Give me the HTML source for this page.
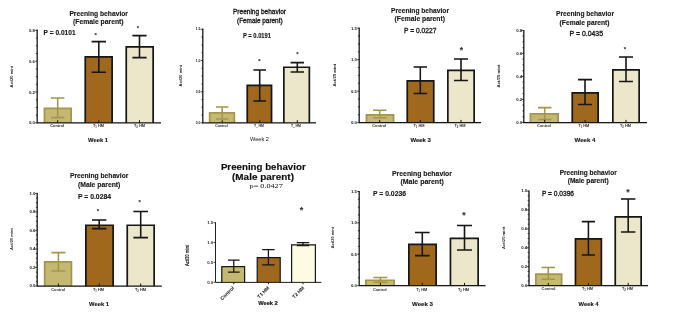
<!DOCTYPE html>
<html><head><meta charset="utf-8"><title>Preening behavior</title>
<style>
html,body{margin:0;padding:0;background:#fff;}
body{width:685px;height:314px;overflow:hidden;font-family:"Liberation Sans",sans-serif;}
svg{display:block;font-family:"Liberation Sans",sans-serif;}
</style></head><body>
<svg width="685" height="314" viewBox="0 0 685 314">
<rect width="685" height="314" fill="#fff"/>
<defs><filter id="ga" filterUnits="userSpaceOnUse" x="0" y="0" width="685" height="314"><feGaussianBlur stdDeviation="0.32"/></filter></defs>
<g filter="url(#ga)">
<rect x="44.45" y="108.45" width="26.70" height="14.45" fill="#c5b873"/>
<path d="M44.45 122.90V108.45H71.15V122.90" fill="none" stroke="#a3954b" stroke-width="1.7" stroke-linejoin="miter"/>
<path d="M57.70 98.00V117.60M51.00 98.00H64.40M51.00 117.60H64.40" stroke="#a3954b" stroke-width="1.55" fill="none"/>
<rect x="85.25" y="56.85" width="26.90" height="66.05" fill="#9f681f"/>
<path d="M85.25 122.90V56.85H112.15V122.90" fill="none" stroke="#141414" stroke-width="1.7" stroke-linejoin="miter"/>
<path d="M98.80 41.60V72.30M91.60 41.60H106.00M91.60 72.30H106.00" stroke="#141414" stroke-width="1.55" fill="none"/>
<rect x="126.25" y="46.85" width="26.90" height="76.05" fill="#ece6cb"/>
<path d="M126.25 122.90V46.85H153.15V122.90" fill="none" stroke="#141414" stroke-width="1.7" stroke-linejoin="miter"/>
<path d="M139.50 35.60V57.60M132.40 35.60H146.60M132.40 57.60H146.60" stroke="#141414" stroke-width="1.55" fill="none"/>
<path d="M37.20 29.60V122.90H161.00" stroke="#141414" stroke-width="1.3" fill="none" stroke-linejoin="miter"/>
<path d="M35.20 30.40H37.20M35.90 38.11H37.20M35.90 45.82H37.20M35.90 53.52H37.20M35.20 61.23H37.20M35.90 68.94H37.20M35.90 76.65H37.20M35.90 84.36H37.20M35.20 92.07H37.20M35.90 99.78H37.20M35.90 107.48H37.20M35.90 115.19H37.20M35.20 122.90H37.20" stroke="#141414" stroke-width="0.8" fill="none"/>
<text x="34.90" y="31.89" font-size="4.3" font-weight="bold" text-anchor="end" fill="#161616">0.8</text>
<text x="34.90" y="62.72" font-size="4.3" font-weight="bold" text-anchor="end" fill="#161616">0.6</text>
<text x="34.90" y="93.56" font-size="4.3" font-weight="bold" text-anchor="end" fill="#161616">0.2</text>
<text x="34.90" y="124.39" font-size="4.3" font-weight="bold" text-anchor="end" fill="#161616">0.0</text>
<path d="M57.70 122.90V120.20M98.80 122.90V120.20M139.50 122.90V120.20" stroke="#141414" stroke-width="1.0" fill="none"/>
<text x="98.70" y="15.72" font-size="6.7" font-weight="bold" text-anchor="middle" fill="#151515" textLength="58.60" lengthAdjust="spacingAndGlyphs" stroke="#151515" stroke-width="0.12">Preening behavior</text>
<text x="98.30" y="24.32" font-size="6.7" font-weight="bold" text-anchor="middle" fill="#151515" textLength="50.60" lengthAdjust="spacingAndGlyphs" stroke="#151515" stroke-width="0.12">(Female parent)</text>
<text x="59.60" y="34.55" font-size="6.5" font-weight="bold" text-anchor="middle" fill="#151515" textLength="32.00" lengthAdjust="spacingAndGlyphs" stroke="#151515" stroke-width="0.12">P = 0.0101</text>
<text x="98.00" y="142.04" font-size="5.9" font-weight="bold" text-anchor="middle" fill="#151515" textLength="20.00" lengthAdjust="spacingAndGlyphs" stroke="#151515" stroke-width="0.12">Week 1</text>
<text x="95.60" y="36.88" font-size="6.0" font-weight="bold" text-anchor="middle" fill="#333" stroke="#333" stroke-width="0.12">*</text>
<text x="138.00" y="30.28" font-size="6.0" font-weight="bold" text-anchor="middle" fill="#333" stroke="#333" stroke-width="0.12">*</text>
<text x="57.20" y="127.15" font-size="3.9" font-weight="bold" text-anchor="middle" fill="#2c2c2c">Control</text>
<text x="98.50" y="127.15" font-size="3.9" font-weight="bold" text-anchor="middle" fill="#2c2c2c">T<tspan font-size="70%" dy="0.9">1</tspan><tspan dy="-0.9"> HM</tspan></text>
<text x="139.50" y="127.15" font-size="3.9" font-weight="bold" text-anchor="middle" fill="#2c2c2c">T<tspan font-size="70%" dy="0.9">2</tspan><tspan dy="-0.9"> HM</tspan></text>
<text x="11.90" y="78.05" font-size="3.9" font-weight="bold" text-anchor="middle" fill="#24242c" transform="rotate(-90 11.90 76.70)" textLength="21.60" lengthAdjust="spacingAndGlyphs">Act/20 mint</text>

<rect x="209.65" y="112.85" width="24.70" height="10.05" fill="#c5b873"/>
<path d="M209.65 122.90V112.85H234.35V122.90" fill="none" stroke="#a3954b" stroke-width="1.7" stroke-linejoin="miter"/>
<path d="M222.20 107.00V119.00M216.00 107.00H228.40M216.00 119.00H228.40" stroke="#a3954b" stroke-width="1.55" fill="none"/>
<rect x="247.25" y="85.45" width="24.30" height="37.45" fill="#9f681f"/>
<path d="M247.25 122.90V85.45H271.55V122.90" fill="none" stroke="#141414" stroke-width="1.7" stroke-linejoin="miter"/>
<path d="M259.70 70.00V101.00M253.40 70.00H266.00M253.40 101.00H266.00" stroke="#141414" stroke-width="1.55" fill="none"/>
<rect x="283.85" y="67.25" width="25.50" height="55.65" fill="#ece6cb"/>
<path d="M283.85 122.90V67.25H309.35V122.90" fill="none" stroke="#141414" stroke-width="1.7" stroke-linejoin="miter"/>
<path d="M297.30 62.60V72.00M290.60 62.60H304.00M290.60 72.00H304.00" stroke="#141414" stroke-width="1.55" fill="none"/>
<path d="M202.80 28.60V122.90H316.00" stroke="#141414" stroke-width="1.3" fill="none" stroke-linejoin="miter"/>
<path d="M200.80 29.30H202.80M201.50 37.10H202.80M201.50 44.90H202.80M201.50 52.70H202.80M200.80 60.50H202.80M201.50 68.30H202.80M201.50 76.10H202.80M201.50 83.90H202.80M200.80 91.70H202.80M201.50 99.50H202.80M201.50 107.30H202.80M201.50 115.10H202.80M200.80 122.90H202.80" stroke="#141414" stroke-width="0.8" fill="none"/>
<text x="200.50" y="30.48" font-size="3.4" font-weight="bold" text-anchor="end" fill="#161616">1.5</text>
<text x="200.50" y="61.68" font-size="3.4" font-weight="bold" text-anchor="end" fill="#161616">1.0</text>
<text x="200.50" y="92.88" font-size="3.4" font-weight="bold" text-anchor="end" fill="#161616">0.5</text>
<text x="200.50" y="124.08" font-size="3.4" font-weight="bold" text-anchor="end" fill="#161616">0.0</text>
<path d="M222.20 122.90V120.20M259.70 122.90V120.20M297.30 122.90V120.20" stroke="#141414" stroke-width="1.0" fill="none"/>
<text x="259.50" y="13.82" font-size="6.4" font-weight="normal" text-anchor="middle" fill="#151515" textLength="53.00" lengthAdjust="spacingAndGlyphs" stroke="#151515" stroke-width="0.3">Preening behavior</text>
<text x="259.80" y="22.82" font-size="6.4" font-weight="normal" text-anchor="middle" fill="#151515" textLength="45.60" lengthAdjust="spacingAndGlyphs" stroke="#151515" stroke-width="0.3">(Female parent)</text>
<text x="257.00" y="37.62" font-size="6.4" font-weight="bold" text-anchor="middle" fill="#151515" textLength="28.00" lengthAdjust="spacingAndGlyphs" stroke="#151515" stroke-width="0.12">P = 0.0191</text>
<text x="259.50" y="141.44" font-size="5.6" font-weight="normal" text-anchor="middle" fill="#151515" textLength="19.00" lengthAdjust="spacingAndGlyphs">Week 2</text>
<text x="259.40" y="62.88" font-size="6.0" font-weight="bold" text-anchor="middle" fill="#333" stroke="#333" stroke-width="0.12">*</text>
<text x="297.40" y="56.28" font-size="6.0" font-weight="bold" text-anchor="middle" fill="#333" stroke="#333" stroke-width="0.12">*</text>
<text x="221.50" y="127.01" font-size="3.5" font-weight="bold" text-anchor="middle" fill="#2c2c2c">Control</text>
<text x="259.00" y="127.01" font-size="3.5" font-weight="bold" text-anchor="middle" fill="#2c2c2c">T<tspan font-size="70%" dy="0.9">1</tspan><tspan dy="-0.9"> HM</tspan></text>
<text x="296.00" y="127.01" font-size="3.5" font-weight="bold" text-anchor="middle" fill="#2c2c2c">T<tspan font-size="70%" dy="0.9">2</tspan><tspan dy="-0.9"> HM</tspan></text>
<text x="180.80" y="77.05" font-size="3.9" font-weight="bold" text-anchor="middle" fill="#24242c" transform="rotate(-90 180.80 75.70)" textLength="21.60" lengthAdjust="spacingAndGlyphs">Act/20 mint</text>
<text x="334.60" y="76.45" font-size="3.9" font-weight="bold" text-anchor="middle" fill="#24242c" transform="rotate(-90 334.60 75.10)" textLength="22.80" lengthAdjust="spacingAndGlyphs">Act/20 mint</text>

<rect x="366.45" y="114.85" width="27.10" height="7.75" fill="#c5b873"/>
<path d="M366.45 122.60V114.85H393.55V122.60" fill="none" stroke="#a3954b" stroke-width="1.7" stroke-linejoin="miter"/>
<path d="M379.70 110.30V117.80M373.00 110.30H386.40M373.00 117.80H386.40" stroke="#a3954b" stroke-width="1.55" fill="none"/>
<rect x="407.25" y="80.85" width="26.50" height="41.75" fill="#9f681f"/>
<path d="M407.25 122.60V80.85H433.75V122.60" fill="none" stroke="#141414" stroke-width="1.7" stroke-linejoin="miter"/>
<path d="M420.30 67.00V93.40M413.60 67.00H427.00M413.60 93.40H427.00" stroke="#141414" stroke-width="1.55" fill="none"/>
<rect x="447.85" y="70.45" width="26.30" height="52.15" fill="#ece6cb"/>
<path d="M447.85 122.60V70.45H474.15V122.60" fill="none" stroke="#141414" stroke-width="1.7" stroke-linejoin="miter"/>
<path d="M461.00 59.00V80.40M454.00 59.00H468.00M454.00 80.40H468.00" stroke="#141414" stroke-width="1.55" fill="none"/>
<path d="M359.20 27.60V122.60H481.00" stroke="#141414" stroke-width="1.3" fill="none" stroke-linejoin="miter"/>
<path d="M357.20 28.20H359.20M357.90 36.07H359.20M357.90 43.93H359.20M357.90 51.80H359.20M357.20 59.67H359.20M357.90 67.53H359.20M357.90 75.40H359.20M357.90 83.27H359.20M357.20 91.13H359.20M357.90 99.00H359.20M357.90 106.87H359.20M357.90 114.73H359.20M357.20 122.60H359.20" stroke="#141414" stroke-width="0.8" fill="none"/>
<text x="356.90" y="29.69" font-size="4.3" font-weight="bold" text-anchor="end" fill="#161616">1.5</text>
<text x="356.90" y="61.16" font-size="4.3" font-weight="bold" text-anchor="end" fill="#161616">1.0</text>
<text x="356.90" y="92.62" font-size="4.3" font-weight="bold" text-anchor="end" fill="#161616">0.5</text>
<text x="356.90" y="124.09" font-size="4.3" font-weight="bold" text-anchor="end" fill="#161616">0.0</text>
<path d="M379.70 122.60V119.90M420.30 122.60V119.90M461.00 122.60V119.90" stroke="#141414" stroke-width="1.0" fill="none"/>
<text x="420.00" y="12.72" font-size="6.7" font-weight="bold" text-anchor="middle" fill="#151515" textLength="58.00" lengthAdjust="spacingAndGlyphs" stroke="#151515" stroke-width="0.12">Preening behavior</text>
<text x="419.80" y="20.72" font-size="6.7" font-weight="bold" text-anchor="middle" fill="#151515" textLength="50.40" lengthAdjust="spacingAndGlyphs" stroke="#151515" stroke-width="0.12">(Female parent)</text>
<text x="420.20" y="33.29" font-size="6.6" font-weight="normal" text-anchor="middle" fill="#151515" textLength="32.40" lengthAdjust="spacingAndGlyphs" stroke="#151515" stroke-width="0.3">P = 0.0227</text>
<text x="420.70" y="141.54" font-size="5.9" font-weight="bold" text-anchor="middle" fill="#151515" textLength="20.50" lengthAdjust="spacingAndGlyphs" stroke="#151515" stroke-width="0.12">Week 3</text>
<text x="461.40" y="53.25" font-size="8.5" font-weight="bold" text-anchor="middle" fill="#333" stroke="#333" stroke-width="0.12">*</text>
<text x="379.20" y="127.25" font-size="3.9" font-weight="bold" text-anchor="middle" fill="#2c2c2c">Control</text>
<text x="419.00" y="127.25" font-size="3.9" font-weight="bold" text-anchor="middle" fill="#2c2c2c">T<tspan font-size="70%" dy="0.9">1</tspan><tspan dy="-0.9"> HM</tspan></text>
<text x="460.00" y="127.25" font-size="3.9" font-weight="bold" text-anchor="middle" fill="#2c2c2c">T<tspan font-size="70%" dy="0.9">2</tspan><tspan dy="-0.9"> HM</tspan></text>
<text x="498.80" y="77.35" font-size="3.9" font-weight="bold" text-anchor="middle" fill="#24242c" transform="rotate(-90 498.80 76.00)" textLength="22.80" lengthAdjust="spacingAndGlyphs">Act/20 mint</text>

<rect x="530.45" y="113.85" width="27.70" height="8.75" fill="#c5b873"/>
<path d="M530.45 122.60V113.85H558.15V122.60" fill="none" stroke="#a3954b" stroke-width="1.7" stroke-linejoin="miter"/>
<path d="M544.70 107.60V119.40M538.00 107.60H551.40M538.00 119.40H551.40" stroke="#a3954b" stroke-width="1.55" fill="none"/>
<rect x="572.25" y="92.85" width="25.90" height="29.75" fill="#9f681f"/>
<path d="M572.25 122.60V92.85H598.15V122.60" fill="none" stroke="#141414" stroke-width="1.7" stroke-linejoin="miter"/>
<path d="M585.00 79.60V104.40M578.00 79.60H592.00M578.00 104.40H592.00" stroke="#141414" stroke-width="1.55" fill="none"/>
<rect x="612.85" y="69.85" width="26.30" height="52.75" fill="#ece6cb"/>
<path d="M612.85 122.60V69.85H639.15V122.60" fill="none" stroke="#141414" stroke-width="1.7" stroke-linejoin="miter"/>
<path d="M626.00 57.00V81.40M619.00 57.00H633.00M619.00 81.40H633.00" stroke="#141414" stroke-width="1.55" fill="none"/>
<path d="M523.80 30.00V122.60H647.00" stroke="#141414" stroke-width="1.3" fill="none" stroke-linejoin="miter"/>
<path d="M521.80 30.40H523.80M522.50 36.15H523.80M522.50 41.90H523.80M522.50 47.65H523.80M521.80 53.40H523.80M522.50 59.15H523.80M522.50 64.90H523.80M522.50 70.65H523.80M521.80 76.40H523.80M522.50 82.15H523.80M522.50 87.90H523.80M522.50 93.65H523.80M521.80 99.40H523.80M522.50 105.15H523.80M522.50 110.90H523.80M522.50 116.65H523.80M521.80 122.40H523.80" stroke="#141414" stroke-width="0.8" fill="none"/>
<text x="522.20" y="31.89" font-size="4.3" font-weight="bold" text-anchor="end" fill="#161616">0.8</text>
<text x="522.20" y="54.89" font-size="4.3" font-weight="bold" text-anchor="end" fill="#161616">0.6</text>
<text x="522.20" y="77.89" font-size="4.3" font-weight="bold" text-anchor="end" fill="#161616">0.4</text>
<text x="522.20" y="100.89" font-size="4.3" font-weight="bold" text-anchor="end" fill="#161616">0.2</text>
<text x="522.20" y="123.89" font-size="4.3" font-weight="bold" text-anchor="end" fill="#161616">0.0</text>
<path d="M544.70 122.60V119.90M585.00 122.60V119.90M626.00 122.60V119.90" stroke="#141414" stroke-width="1.0" fill="none"/>
<text x="585.00" y="15.92" font-size="6.7" font-weight="bold" text-anchor="middle" fill="#151515" textLength="58.00" lengthAdjust="spacingAndGlyphs" stroke="#151515" stroke-width="0.12">Preening behavior</text>
<text x="584.60" y="24.82" font-size="6.7" font-weight="bold" text-anchor="middle" fill="#151515" textLength="50.00" lengthAdjust="spacingAndGlyphs" stroke="#151515" stroke-width="0.12">(Female parent)</text>
<text x="586.30" y="35.72" font-size="6.7" font-weight="normal" text-anchor="middle" fill="#151515" textLength="33.40" lengthAdjust="spacingAndGlyphs" stroke="#151515" stroke-width="0.3">P = 0.0435</text>
<text x="585.00" y="142.04" font-size="5.9" font-weight="bold" text-anchor="middle" fill="#151515" textLength="21.00" lengthAdjust="spacingAndGlyphs" stroke="#151515" stroke-width="0.12">Week 4</text>
<text x="625.00" y="50.88" font-size="6.0" font-weight="bold" text-anchor="middle" fill="#333" stroke="#333" stroke-width="0.12">*</text>
<text x="544.00" y="126.65" font-size="3.9" font-weight="bold" text-anchor="middle" fill="#2c2c2c">Control</text>
<text x="583.80" y="126.65" font-size="3.9" font-weight="bold" text-anchor="middle" fill="#2c2c2c">T<tspan font-size="70%" dy="0.9">1</tspan><tspan dy="-0.9"> HM</tspan></text>
<text x="625.50" y="126.65" font-size="3.9" font-weight="bold" text-anchor="middle" fill="#2c2c2c">T<tspan font-size="70%" dy="0.9">2</tspan><tspan dy="-0.9"> HM</tspan></text>

<rect x="44.65" y="261.85" width="26.80" height="24.35" fill="#c5b873"/>
<path d="M44.65 286.20V261.85H71.45V286.20" fill="none" stroke="#a3954b" stroke-width="1.7" stroke-linejoin="miter"/>
<path d="M58.40 252.60V271.00M51.40 252.60H65.40M51.40 271.00H65.40" stroke="#a3954b" stroke-width="1.55" fill="none"/>
<rect x="85.85" y="225.25" width="27.30" height="60.95" fill="#9f681f"/>
<path d="M85.85 286.20V225.25H113.15V286.20" fill="none" stroke="#141414" stroke-width="1.7" stroke-linejoin="miter"/>
<path d="M99.20 220.00V228.60M92.00 220.00H106.40M92.00 228.60H106.40" stroke="#141414" stroke-width="1.55" fill="none"/>
<rect x="127.25" y="225.25" width="26.90" height="60.95" fill="#ece6cb"/>
<path d="M127.25 286.20V225.25H154.15V286.20" fill="none" stroke="#141414" stroke-width="1.7" stroke-linejoin="miter"/>
<path d="M140.70 211.40V237.60M133.40 211.40H148.00M133.40 237.60H148.00" stroke="#141414" stroke-width="1.55" fill="none"/>
<path d="M37.20 193.00V286.20H161.80" stroke="#141414" stroke-width="1.3" fill="none" stroke-linejoin="miter"/>
<path d="M35.20 193.40H37.20M35.90 198.03H37.20M35.90 202.66H37.20M35.90 207.29H37.20M35.20 211.92H37.20M35.90 216.55H37.20M35.90 221.18H37.20M35.90 225.81H37.20M35.20 230.44H37.20M35.90 235.07H37.20M35.90 239.70H37.20M35.90 244.33H37.20M35.20 248.96H37.20M35.90 253.59H37.20M35.90 258.22H37.20M35.90 262.85H37.20M35.20 267.48H37.20M35.90 272.11H37.20M35.90 276.74H37.20M35.90 281.37H37.20M35.20 286.00H37.20" stroke="#141414" stroke-width="0.8" fill="none"/>
<text x="35.40" y="194.89" font-size="4.3" font-weight="bold" text-anchor="end" fill="#161616">1.0</text>
<text x="35.40" y="213.41" font-size="4.3" font-weight="bold" text-anchor="end" fill="#161616">0.8</text>
<text x="35.40" y="231.93" font-size="4.3" font-weight="bold" text-anchor="end" fill="#161616">0.6</text>
<text x="35.40" y="250.45" font-size="4.3" font-weight="bold" text-anchor="end" fill="#161616">0.4</text>
<text x="35.40" y="268.97" font-size="4.3" font-weight="bold" text-anchor="end" fill="#161616">0.2</text>
<text x="35.40" y="287.49" font-size="4.3" font-weight="bold" text-anchor="end" fill="#161616">0.0</text>
<path d="M58.40 286.20V283.50M99.20 286.20V283.50M140.70 286.20V283.50" stroke="#141414" stroke-width="1.0" fill="none"/>
<text x="99.20" y="177.92" font-size="6.7" font-weight="bold" text-anchor="middle" fill="#151515" textLength="58.40" lengthAdjust="spacingAndGlyphs" stroke="#151515" stroke-width="0.12">Preening behavior</text>
<text x="99.20" y="186.82" font-size="6.7" font-weight="bold" text-anchor="middle" fill="#151515" textLength="42.40" lengthAdjust="spacingAndGlyphs" stroke="#151515" stroke-width="0.12">(Male parent)</text>
<text x="94.50" y="198.72" font-size="6.7" font-weight="bold" text-anchor="middle" fill="#151515" textLength="33.00" lengthAdjust="spacingAndGlyphs" stroke="#151515" stroke-width="0.12">P = 0.0284</text>
<text x="99.00" y="305.54" font-size="5.9" font-weight="bold" text-anchor="middle" fill="#151515" textLength="20.00" lengthAdjust="spacingAndGlyphs" stroke="#151515" stroke-width="0.12">Week 1</text>
<text x="98.00" y="213.28" font-size="6.0" font-weight="bold" text-anchor="middle" fill="#333" stroke="#333" stroke-width="0.12">*</text>
<text x="139.60" y="204.28" font-size="6.0" font-weight="bold" text-anchor="middle" fill="#333" stroke="#333" stroke-width="0.12">*</text>
<text x="58.20" y="290.85" font-size="3.9" font-weight="bold" text-anchor="middle" fill="#2c2c2c">Control</text>
<text x="98.50" y="290.85" font-size="3.9" font-weight="bold" text-anchor="middle" fill="#2c2c2c">T<tspan font-size="70%" dy="0.9">1</tspan><tspan dy="-0.9"> HM</tspan></text>
<text x="140.50" y="290.85" font-size="3.9" font-weight="bold" text-anchor="middle" fill="#2c2c2c">T<tspan font-size="70%" dy="0.9">2</tspan><tspan dy="-0.9"> HM</tspan></text>
<text x="11.90" y="240.35" font-size="3.9" font-weight="bold" text-anchor="middle" fill="#24242c" transform="rotate(-90 11.90 239.00)" textLength="21.90" lengthAdjust="spacingAndGlyphs">Act/20 mint</text>

<rect x="221.80" y="266.60" width="22.80" height="15.80" fill="#c5b873"/>
<path d="M221.80 282.40V266.60H244.60V282.40" fill="none" stroke="#141414" stroke-width="1.2" stroke-linejoin="miter"/>
<path d="M233.75 260.10V272.20M227.90 260.10H239.60M227.90 272.20H239.60" stroke="#141414" stroke-width="1.25" fill="none"/>
<rect x="257.20" y="257.60" width="23.00" height="24.80" fill="#9f681f"/>
<path d="M257.20 282.40V257.60H280.20V282.40" fill="none" stroke="#141414" stroke-width="1.2" stroke-linejoin="miter"/>
<path d="M268.40 249.60V264.80M262.20 249.60H274.60M262.20 264.80H274.60" stroke="#141414" stroke-width="1.25" fill="none"/>
<rect x="291.60" y="244.80" width="23.80" height="37.60" fill="#fdfbe4"/>
<path d="M291.60 282.40V244.80H315.40V282.40" fill="none" stroke="#141414" stroke-width="1.2" stroke-linejoin="miter"/>
<path d="M303.00 242.60V245.60M296.80 242.60H309.20M296.80 245.60H309.20" stroke="#141414" stroke-width="1.25" fill="none"/>
<path d="M215.50 222.30V282.40H321.40" stroke="#141414" stroke-width="0.95" fill="none" stroke-linejoin="miter"/>
<path d="M213.50 222.70H215.50M213.50 242.53H215.50M213.50 262.37H215.50M213.50 282.20H215.50" stroke="#141414" stroke-width="0.8" fill="none"/>
<text x="213.20" y="224.19" font-size="4.3" font-weight="bold" text-anchor="end" fill="#2a2a2a">1.5</text>
<text x="213.20" y="244.02" font-size="4.3" font-weight="bold" text-anchor="end" fill="#2a2a2a">1.0</text>
<text x="213.20" y="263.86" font-size="4.3" font-weight="bold" text-anchor="end" fill="#2a2a2a">0.5</text>
<text x="213.20" y="283.69" font-size="4.3" font-weight="bold" text-anchor="end" fill="#2a2a2a">0.0</text>
<path d="M233.75 282.40V284.20M268.40 282.40V284.20M303.00 282.40V284.20" stroke="#141414" stroke-width="1.0" fill="none"/>
<text x="263.30" y="170.15" font-size="8.8" font-weight="bold" text-anchor="middle" fill="#0c0c0c" textLength="84.80" lengthAdjust="spacingAndGlyphs" stroke="#0c0c0c" stroke-width="0.12">Preening behavior</text>
<text x="263.00" y="180.35" font-size="8.8" font-weight="bold" text-anchor="middle" fill="#0c0c0c" textLength="62.00" lengthAdjust="spacingAndGlyphs" stroke="#0c0c0c" stroke-width="0.12">(Male parent)</text>
<text x="266.20" y="188.43" font-size="6.6" font-weight="normal" text-anchor="middle" fill="#0c0c0c" textLength="33.20" lengthAdjust="spacingAndGlyphs" font-family="Liberation Serif">p= 0.0427</text>
<text x="268.00" y="304.98" font-size="5.7" font-weight="bold" text-anchor="middle" fill="#0c0c0c" textLength="19.60" lengthAdjust="spacingAndGlyphs" stroke="#0c0c0c" stroke-width="0.12">Week 2</text>
<text x="301.50" y="212.92" font-size="9" font-weight="bold" text-anchor="middle" fill="#333" stroke="#333" stroke-width="0.12">*</text>
<text x="187.30" y="257.33" font-size="5.0" font-weight="bold" text-anchor="middle" fill="#24242c" transform="rotate(-90 187.30 255.60)" textLength="21.00" lengthAdjust="spacingAndGlyphs" stroke="#24242c" stroke-width="0.12">Act/20 mint</text>
<text x="332.20" y="238.95" font-size="3.9" font-weight="bold" text-anchor="middle" fill="#24242c" transform="rotate(-90 332.20 237.60)" textLength="21.40" lengthAdjust="spacingAndGlyphs">Act/20 mint</text>
<text x="233.30" y="288.80" font-size="4.9" font-weight="bold" text-anchor="end" fill="#111" transform="rotate(-45 233.30 287.10)">Control</text>
<text x="268.50" y="288.80" font-size="4.9" font-weight="bold" text-anchor="end" fill="#111" transform="rotate(-45 268.50 287.10)">T1 HM</text>
<text x="303.50" y="288.80" font-size="4.9" font-weight="bold" text-anchor="end" fill="#111" transform="rotate(-45 303.50 287.10)">T2 HM</text>

<rect x="365.85" y="280.25" width="28.30" height="5.35" fill="#c5b873"/>
<path d="M365.85 285.60V280.25H394.15V285.60" fill="none" stroke="#a3954b" stroke-width="1.7" stroke-linejoin="miter"/>
<path d="M380.40 277.50V282.20M373.40 277.50H387.40M373.40 282.20H387.40" stroke="#a3954b" stroke-width="1.55" fill="none"/>
<rect x="408.85" y="244.45" width="27.30" height="41.15" fill="#9f681f"/>
<path d="M408.85 285.60V244.45H436.15V285.60" fill="none" stroke="#141414" stroke-width="1.7" stroke-linejoin="miter"/>
<path d="M422.30 232.40V255.60M415.00 232.40H429.60M415.00 255.60H429.60" stroke="#141414" stroke-width="1.55" fill="none"/>
<rect x="450.45" y="238.45" width="27.70" height="47.15" fill="#ece6cb"/>
<path d="M450.45 285.60V238.45H478.15V285.60" fill="none" stroke="#141414" stroke-width="1.7" stroke-linejoin="miter"/>
<path d="M464.50 225.40V250.00M457.00 225.40H472.00M457.00 250.00H472.00" stroke="#141414" stroke-width="1.55" fill="none"/>
<path d="M359.20 191.00V285.60H485.60" stroke="#141414" stroke-width="1.3" fill="none" stroke-linejoin="miter"/>
<path d="M357.20 191.40H359.20M357.90 199.25H359.20M357.90 207.10H359.20M357.90 214.95H359.20M357.20 222.80H359.20M357.90 230.65H359.20M357.90 238.50H359.20M357.90 246.35H359.20M357.20 254.20H359.20M357.90 262.05H359.20M357.90 269.90H359.20M357.90 277.75H359.20M357.20 285.60H359.20" stroke="#141414" stroke-width="0.8" fill="none"/>
<text x="356.90" y="192.89" font-size="4.3" font-weight="bold" text-anchor="end" fill="#161616">1.5</text>
<text x="356.90" y="224.29" font-size="4.3" font-weight="bold" text-anchor="end" fill="#161616">1.0</text>
<text x="356.90" y="255.69" font-size="4.3" font-weight="bold" text-anchor="end" fill="#161616">0.5</text>
<text x="356.90" y="287.09" font-size="4.3" font-weight="bold" text-anchor="end" fill="#161616">0.0</text>
<path d="M380.40 285.60V282.90M422.30 285.60V282.90M464.50 285.60V282.90" stroke="#141414" stroke-width="1.0" fill="none"/>
<text x="422.00" y="176.36" font-size="6.8" font-weight="bold" text-anchor="middle" fill="#151515" textLength="60.00" lengthAdjust="spacingAndGlyphs" stroke="#151515" stroke-width="0.12">Preening behavior</text>
<text x="422.10" y="183.76" font-size="6.8" font-weight="bold" text-anchor="middle" fill="#151515" textLength="43.40" lengthAdjust="spacingAndGlyphs" stroke="#151515" stroke-width="0.12">(Male parent)</text>
<text x="389.50" y="196.32" font-size="6.7" font-weight="bold" text-anchor="middle" fill="#151515" textLength="33.00" lengthAdjust="spacingAndGlyphs" stroke="#151515" stroke-width="0.12">P = 0.0236</text>
<text x="422.50" y="305.54" font-size="5.9" font-weight="bold" text-anchor="middle" fill="#151515" textLength="21.00" lengthAdjust="spacingAndGlyphs" stroke="#151515" stroke-width="0.12">Week 3</text>
<text x="463.80" y="218.05" font-size="8.5" font-weight="bold" text-anchor="middle" fill="#333" stroke="#333" stroke-width="0.12">*</text>
<text x="379.80" y="290.85" font-size="3.9" font-weight="bold" text-anchor="middle" fill="#2c2c2c">Control</text>
<text x="421.70" y="290.85" font-size="3.9" font-weight="bold" text-anchor="middle" fill="#2c2c2c">T<tspan font-size="70%" dy="0.9">1</tspan><tspan dy="-0.9"> HM</tspan></text>
<text x="463.50" y="290.85" font-size="3.9" font-weight="bold" text-anchor="middle" fill="#2c2c2c">T<tspan font-size="70%" dy="0.9">2</tspan><tspan dy="-0.9"> HM</tspan></text>
<text x="504.00" y="239.15" font-size="3.9" font-weight="bold" text-anchor="middle" fill="#24242c" transform="rotate(-90 504.00 237.80)" textLength="22.30" lengthAdjust="spacingAndGlyphs">Act/20 mint</text>

<rect x="535.85" y="274.05" width="25.80" height="11.55" fill="#c5b873"/>
<path d="M535.85 285.60V274.05H561.65V285.60" fill="none" stroke="#a3954b" stroke-width="1.7" stroke-linejoin="miter"/>
<path d="M548.30 267.40V279.20M541.60 267.40H555.00M541.60 279.20H555.00" stroke="#a3954b" stroke-width="1.55" fill="none"/>
<rect x="575.45" y="238.85" width="25.90" height="46.75" fill="#9f681f"/>
<path d="M575.45 285.60V238.85H601.35V285.60" fill="none" stroke="#141414" stroke-width="1.7" stroke-linejoin="miter"/>
<path d="M588.40 221.60V255.00M581.80 221.60H595.00M581.80 255.00H595.00" stroke="#141414" stroke-width="1.55" fill="none"/>
<rect x="615.25" y="216.85" width="25.90" height="68.75" fill="#ece6cb"/>
<path d="M615.25 285.60V216.85H641.15V285.60" fill="none" stroke="#141414" stroke-width="1.7" stroke-linejoin="miter"/>
<path d="M628.20 199.00V232.00M621.00 199.00H635.40M621.00 232.00H635.40" stroke="#141414" stroke-width="1.55" fill="none"/>
<path d="M529.00 190.60V285.60H648.00" stroke="#141414" stroke-width="1.3" fill="none" stroke-linejoin="miter"/>
<path d="M527.00 191.00H529.00M527.70 195.73H529.00M527.70 200.46H529.00M527.70 205.19H529.00M527.00 209.92H529.00M527.70 214.65H529.00M527.70 219.38H529.00M527.70 224.11H529.00M527.00 228.84H529.00M527.70 233.57H529.00M527.70 238.30H529.00M527.70 243.03H529.00M527.00 247.76H529.00M527.70 252.49H529.00M527.70 257.22H529.00M527.70 261.95H529.00M527.00 266.68H529.00M527.70 271.41H529.00M527.70 276.14H529.00M527.70 280.87H529.00M527.00 285.60H529.00" stroke="#141414" stroke-width="0.8" fill="none"/>
<text x="527.20" y="192.49" font-size="4.3" font-weight="bold" text-anchor="end" fill="#161616">1.0</text>
<text x="527.20" y="211.41" font-size="4.3" font-weight="bold" text-anchor="end" fill="#161616">0.8</text>
<text x="527.20" y="230.33" font-size="4.3" font-weight="bold" text-anchor="end" fill="#161616">0.6</text>
<text x="527.20" y="249.25" font-size="4.3" font-weight="bold" text-anchor="end" fill="#161616">0.4</text>
<text x="527.20" y="268.17" font-size="4.3" font-weight="bold" text-anchor="end" fill="#161616">0.2</text>
<text x="527.20" y="287.09" font-size="4.3" font-weight="bold" text-anchor="end" fill="#161616">0.0</text>
<path d="M548.30 285.60V282.90M588.40 285.60V282.90M628.20 285.60V282.90" stroke="#141414" stroke-width="1.0" fill="none"/>
<text x="588.20" y="174.89" font-size="6.6" font-weight="bold" text-anchor="middle" fill="#151515" textLength="57.00" lengthAdjust="spacingAndGlyphs" stroke="#151515" stroke-width="0.12">Preening behavior</text>
<text x="588.20" y="182.69" font-size="6.6" font-weight="bold" text-anchor="middle" fill="#151515" textLength="41.00" lengthAdjust="spacingAndGlyphs" stroke="#151515" stroke-width="0.12">(Male parent)</text>
<text x="558.00" y="195.69" font-size="6.6" font-weight="normal" text-anchor="middle" fill="#151515" textLength="32.00" lengthAdjust="spacingAndGlyphs" stroke="#151515" stroke-width="0.3">P = 0.0396</text>
<text x="588.50" y="305.54" font-size="5.9" font-weight="bold" text-anchor="middle" fill="#151515" textLength="20.00" lengthAdjust="spacingAndGlyphs" stroke="#151515" stroke-width="0.12">Week 4</text>
<text x="628.00" y="195.15" font-size="8.5" font-weight="bold" text-anchor="middle" fill="#333" stroke="#333" stroke-width="0.12">*</text>
<text x="548.50" y="290.25" font-size="3.9" font-weight="bold" text-anchor="middle" fill="#2c2c2c">Control</text>
<text x="587.50" y="290.25" font-size="3.9" font-weight="bold" text-anchor="middle" fill="#2c2c2c">T<tspan font-size="70%" dy="0.9">1</tspan><tspan dy="-0.9"> HM</tspan></text>
<text x="627.50" y="290.25" font-size="3.9" font-weight="bold" text-anchor="middle" fill="#2c2c2c">T<tspan font-size="70%" dy="0.9">2</tspan><tspan dy="-0.9"> HM</tspan></text>

</g>
</svg>
</body></html>
